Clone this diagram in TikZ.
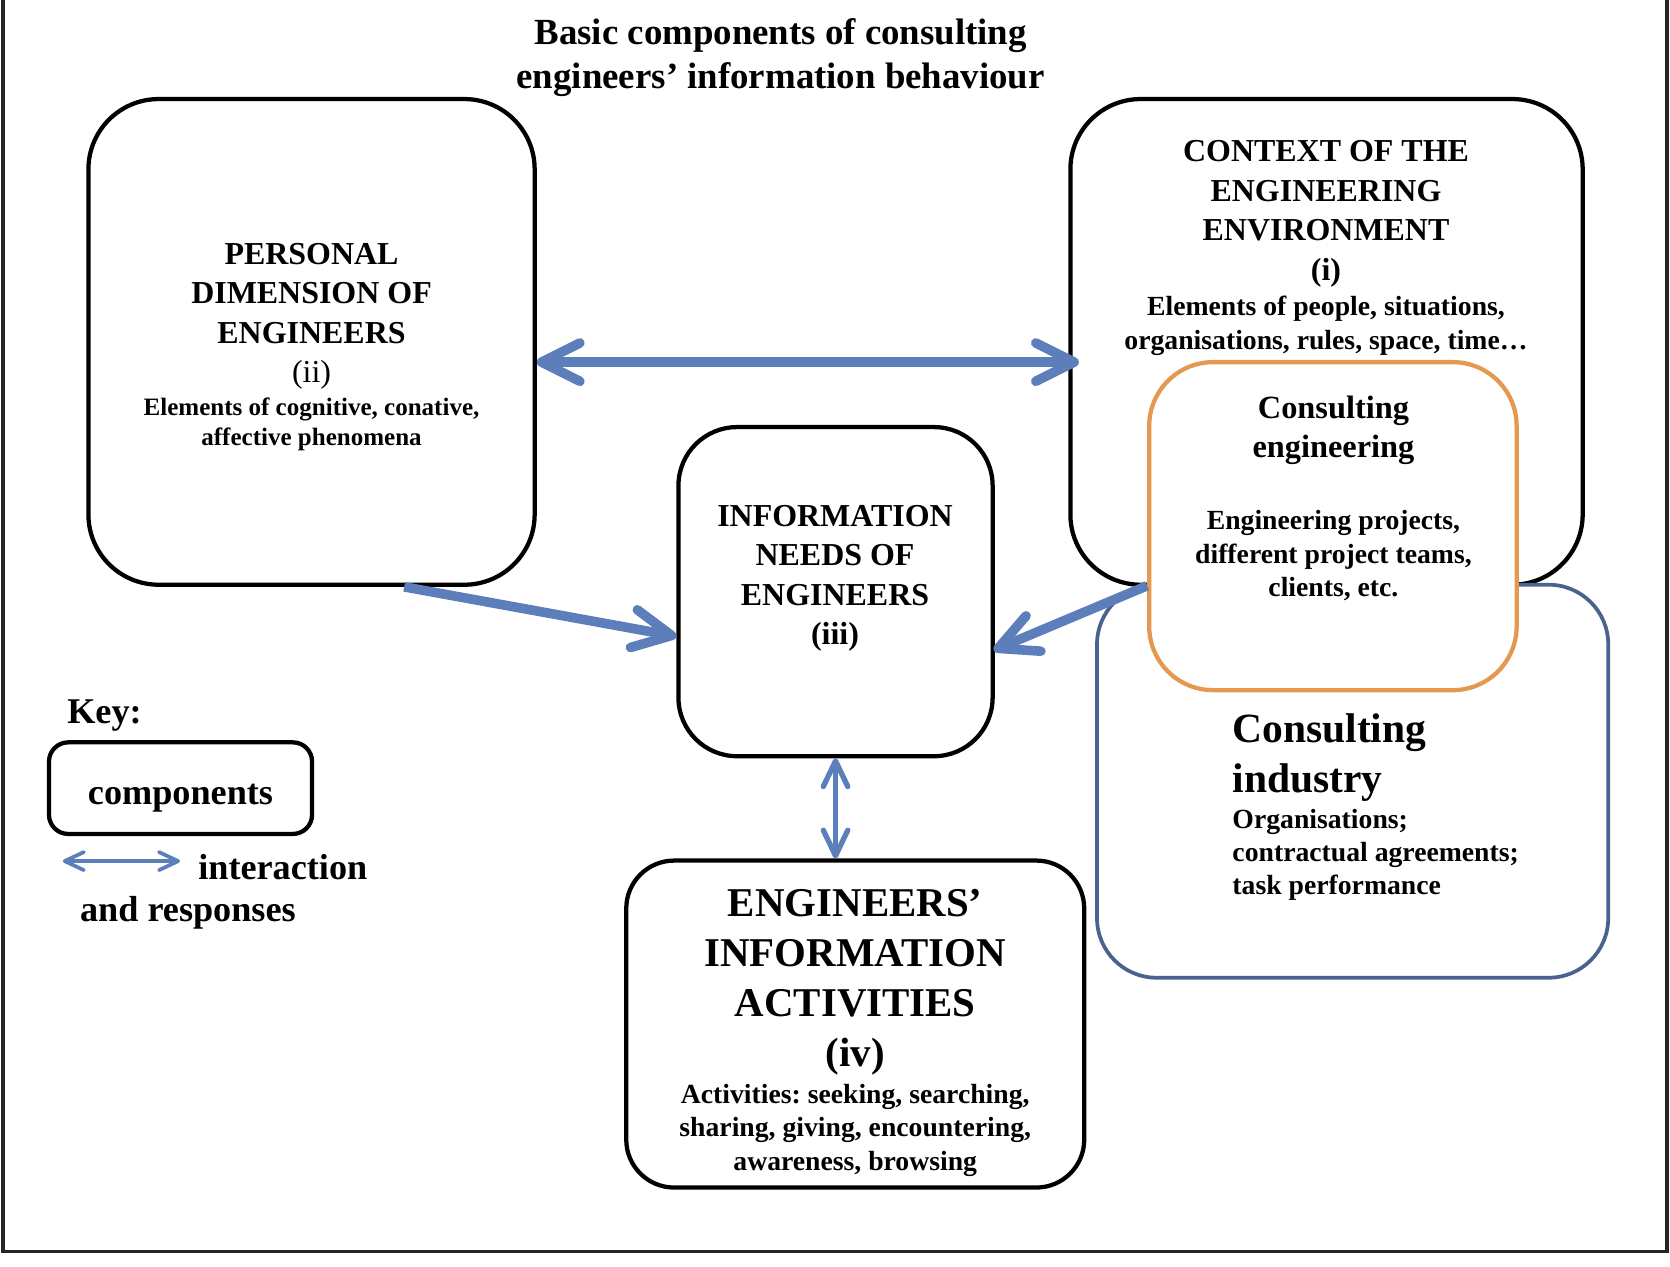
\documentclass[tikz,border=0pt]{standalone}
\usepackage{fontspec}
\setmainfont{Liberation Serif}
\usetikzlibrary{arrows.meta}
\usetikzlibrary{positioning}

\definecolor{linkblue}{RGB}{92,126,187}
\definecolor{engorange}{RGB}{228,152,80}
\definecolor{indblue}{RGB}{74,98,142}

\tikzset{
  comp/.style={draw, line width=4pt, fill=white, rounded corners=#1},
  comp/.default=66pt,
  head/.style={font=\bfseries\fontsize{30}{37}\selectfont, align=center, inner sep=0pt},
  sub/.style={font=\bfseries\fontsize{26}{31.5}\selectfont, align=center, inner sep=0pt},
  keytxt/.style={font=\bfseries\fontsize{34}{40}\selectfont, inner sep=0pt, anchor=base west},
  link/.style={draw=linkblue, line width=9pt, >={Straight Barb[length=36pt,width=36pt,round]}},
}

\begin{document}
\frenchspacing
\begin{tikzpicture}[x=1pt,y=-1pt]
\useasboundingbox (0,0) rectangle (1568,1189);
\draw[line width=3.5pt, black!85] (3,0) |- (1565,1175) -- (1565,0);

\node[font=\bfseries\fontsize{34.6}{41}\selectfont, align=center, inner sep=0pt] (title) at (733,54)
  {Basic components of consulting\\engineers’ information behaviour};

% components
\node[comp, minimum width=419pt, minimum height=456pt] (pers) at (292.5,321) {};
\node[comp, minimum width=481pt, minimum height=456pt] (ctx) at (1245.5,321) {};
\node[draw=indblue, line width=3.5pt, rounded corners=56pt, fill=white,
  minimum width=480pt, minimum height=369pt] (ind) at (1270,733.5) {};
\node[draw=engorange, line width=4pt, rounded corners=60pt, fill=white,
  minimum width=345pt, minimum height=308pt] (ceng) at (1251.5,494) {};
\node[comp=55pt, minimum width=295pt, minimum height=309pt] (needs) at (784.5,555.5) {};
\node[comp=45pt, minimum width=430pt, minimum height=307pt] (acts) at (803,961.5) {};

\node[head] (persHead) at (292.5,297) {PERSONAL\\DIMENSION OF\\ENGINEERS\\\mdseries (ii)};
\node[sub, font=\bfseries\fontsize{23.5}{28}\selectfont] (persSub) at (292.5,398.5)
  {Elements of cognitive, conative,\\affective phenomena};

\node[head] (ctxHead) at (1245,200.8) {CONTEXT OF THE\\ENGINEERING\\ENVIRONMENT\\(i)};
\node[sub, font=\bfseries\fontsize{26}{32}\selectfont] (ctxSub) at (1245,305.6)
  {Elements of people, situations,\\organisations, rules, space, time…};

\node[head, font=\bfseries\fontsize{30.4}{36}\selectfont] (cengHead) at (1252,404) {Consulting\\engineering};
\node[sub] (cengSub) at (1252,522) {Engineering projects,\\different project teams,\\clients, etc.};

\node[head] (needsHead) at (784,542.8) {INFORMATION\\NEEDS OF\\ENGINEERS\\(iii)};

\node[head, font=\bfseries\fontsize{38.4}{47}\selectfont] (actsHead) at (803,922.3)
  {ENGINEERS’\\INFORMATION\\ACTIVITIES\\(iv)};
\node[sub] (actsSub) at (803,1061) {Activities: seeking, searching,\\sharing, giving, encountering,\\awareness, browsing};

\node[head, align=left, anchor=west, font=\bfseries\fontsize{39}{47}\selectfont] (indHead) at (1157,711.5)
  {Consulting\\industry};
\node[sub, align=left, anchor=west, font=\bfseries\fontsize{26}{31}\selectfont] (indSub) at (1157,802.6)
  {Organisations;\\contractual agreements;\\task performance};

% key
\node[keytxt] (keyHead) at (63,679) {Key:};
\node[comp=18pt, minimum width=247pt, minimum height=86pt, text height=31pt, text depth=0pt,
  font=\bfseries\fontsize{34}{40}\selectfont] (keyBox) at (169.5,740) {components};
\coordinate (keyA) at (59,808.5);
\coordinate (keyB) at (169,808.5);
\draw[link, line width=3.5pt, >={Straight Barb[length=18pt,width=17pt,round]}, <->] (keyA) -- (keyB);
\node[keytxt] (keyInter) at (186,825.6) {interaction};
\node[keytxt] (keyResp) at (75,865) {and responses};

% interactions
\draw[link, <->] ([yshift=-19pt]pers.east) -- ([xshift=10pt,yshift=-19pt]ctx.west);
\draw[link, ->] ([xshift=87pt]pers.south) -- ([yshift=-42pt]needs.west);
\draw[link, ->] ([yshift=-56pt]ceng.west) -- ([xshift=-1pt,yshift=-55pt]needs.east);
\draw[link, line width=5pt, >={Straight Barb[length=24pt,width=23pt,round]}, <->]
  (needs.south) -- (needs.south |- acts.north);
\end{tikzpicture}
\end{document}
